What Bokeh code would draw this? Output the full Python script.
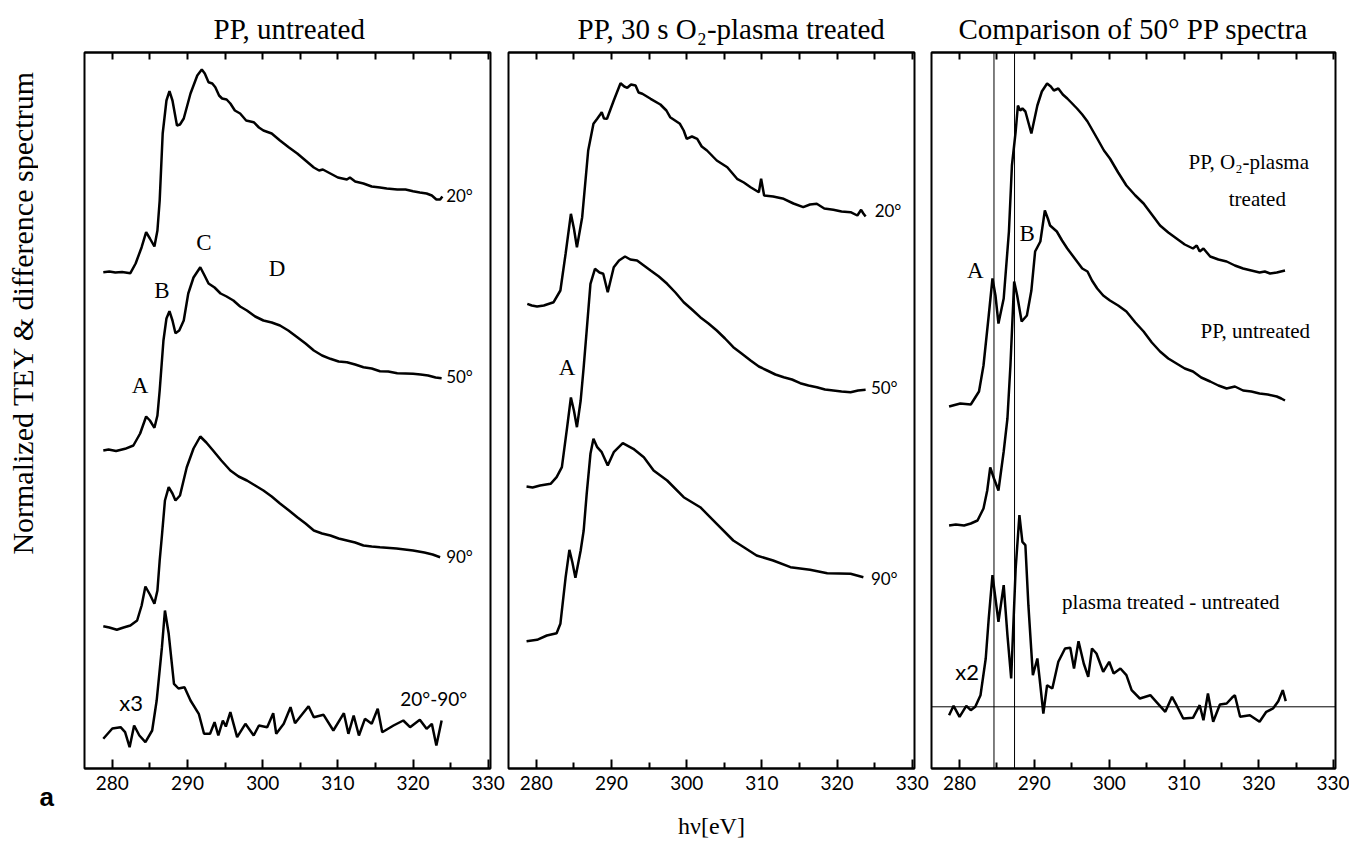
import math
from bokeh.plotting import figure
from bokeh.models import Range1d, FixedTicker, LinearAxis, Label, Span, Title
from bokeh.core.properties import value
from bokeh.layouts import row
from bokeh.embed import file_html
from bokeh.resources import INLINE

# ---------------- data (photon energy in eV, stacked normalized TEY in arb. units) ----------------
TICKS = [280, 290, 300, 310, 320, 330]
MINOR_TICKS = [285, 295, 305, 315, 325]
TOP_TICKS = [280, 285, 290, 295, 300, 305, 310, 315, 320, 325, 330]

# Panel 1: PP, untreated
E_U20 = [278.8, 279.6, 280.4, 281.3, 282.4, 283.1, 283.9, 284.5, 285.0, 285.6, 286.0, 286.3, 286.7, 287.2, 287.6,
         288.0, 288.6, 289.0, 289.5, 290.4, 291.3, 291.9, 292.3, 292.8, 293.3, 293.7, 294.2, 294.6, 295.2, 295.7,
         296.3, 297.0, 297.8, 298.8, 299.5, 300.1, 301.2, 302.3, 303.5, 304.6, 305.7, 306.8, 307.5, 308.0, 309.0,
         310.0, 311.2, 311.6, 312.3, 313.4, 314.5, 315.6, 316.5, 317.9, 319.0, 320.0, 320.9, 321.8, 322.5, 323.1,
         323.6, 323.9]
Y_U20 = [496.3, 497, 496, 496.5, 495.3, 505, 521.3, 536.3, 530, 522, 538, 568, 635, 668, 677.3,
         668, 643, 644, 650, 675, 693, 699, 695, 686.3, 685, 681.3, 673, 670, 669, 665,
         658, 655, 648, 646.3, 641, 638, 635, 628, 621, 615, 608, 601, 598, 599, 595,
         591, 589, 591, 587, 585, 582, 581, 580, 579, 579, 577.3, 576, 575, 573, 569,
         569, 572]

E_U50 = [278.8, 279.5, 280.5, 281.7, 282.8, 283.7, 284.5, 285.0, 285.6, 286.0, 286.3, 286.8, 287.2, 287.6, 288.0,
         288.4, 288.9, 289.5, 290.1, 290.8, 291.7, 292.2, 292.8, 293.6, 294.4, 295.2, 296.1, 297.0, 297.9, 299.0,
         300.1, 301.2, 302.3, 303.4, 304.6, 305.7, 306.8, 307.9, 309.0, 310.1, 311.2, 312.3, 313.4, 314.5, 315.6,
         316.7, 317.9, 319.0, 320.0, 321.0, 322.0, 323.0, 323.8]
Y_U50 = [318, 319, 317.5, 319.7, 323, 335, 352, 348, 340.7, 353, 378, 428, 450, 457.3, 448,
         435.3, 438, 448, 475, 491, 501.3, 494, 485, 481, 475, 472, 468, 462, 458, 452,
         448, 446, 443, 438, 431.3, 425, 418, 413, 409.7, 407, 406.3, 404, 401.3, 400, 397.3,
         397, 395.3, 395, 394.7, 394, 393, 391, 390.3]

E_U90 = [278.8, 279.6, 280.6, 281.5, 282.4, 283.3, 283.9, 284.4, 285.0, 285.6, 286.0, 286.3, 286.6, 287.0, 287.5,
         288.0, 288.4, 289.0, 289.9, 290.8, 291.7, 292.5, 293.4, 294.5, 295.7, 296.8, 297.9, 299.0, 300.1, 301.2,
         302.3, 303.5, 304.6, 305.7, 306.8, 307.9, 309.0, 310.1, 311.2, 312.3, 313.4, 314.5, 315.6, 317.8, 320.0,
         321.5, 322.6, 323.6]
Y_U90 = [142.3, 141, 138.7, 141, 143, 148, 163, 182, 174, 164.7, 178, 208, 233, 268, 281.3,
         275, 268, 273, 301.3, 320, 332, 326, 318, 308, 298, 292, 288, 283, 278, 272,
         265, 258, 251.3, 245, 238, 235, 233, 230, 228, 226, 223, 222, 221.3, 220, 218,
         216, 214, 211.3]

E_UDIFF = [278.8, 280.0, 281.1, 281.7, 282.3, 282.9, 283.6, 284.4, 285.3, 285.9, 286.6, 287.0, 287.5, 288.2, 288.8,
           289.6, 290.4, 291.5, 292.2, 293.0, 293.6, 294.1, 294.7, 295.1, 295.7, 296.6, 297.7, 298.8, 299.5, 300.6,
           301.4, 301.8, 302.8, 303.7, 304.3, 306.1, 306.8, 308.1, 309.4, 310.8, 311.4, 312.1, 312.8, 313.6, 314.5,
           315.3, 315.9, 317.4, 318.7, 319.6, 320.9, 321.8, 322.5, 323.1, 323.8]
Y_UDIFF = [29.7, 40, 41.3, 36.3, 21.3, 43, 33, 26.3, 38, 68, 121.3, 158, 134.7, 84.7, 80,
           81.3, 68, 54.7, 34.7, 34.7, 46.3, 33, 48, 42, 56.3, 31.3, 44.7, 33, 43, 41.3,
           55.3, 34.7, 44.7, 61.3, 45.3, 62.3, 51.3, 53.7, 38, 55.3, 34.7, 53, 33, 49.7, 44.7,
           59.7, 36.3, 43, 48, 41.3, 48.7, 39.7, 44.7, 23, 48]

# Panel 2: PP, 30 s O2-plasma treated
E_T20 = [278.8, 279.4, 280.1, 281.0, 282.3, 283.2, 283.9, 284.6, 285.0, 285.4, 286.1, 286.9, 287.6, 288.1, 288.5,
         288.7, 289.0, 289.4, 290.3, 291.2, 291.7, 292.1, 292.6, 293.2, 293.6, 294.1, 295.2, 296.5, 297.3, 297.8,
         299.1, 299.6, 300.0, 300.7, 301.4, 302.0, 302.7, 304.0, 305.4, 306.7, 307.6, 308.5, 309.6, 309.9, 310.3,
         311.5, 312.9, 314.2, 315.5, 316.4, 317.3, 318.3, 319.5, 320.6, 321.8, 322.7, 323.2, 323.5, 323.8]
Y_T20 = [464.7, 463, 462, 463, 466.3, 478, 515, 554.7, 540, 521.3, 551.3, 618, 644.7, 649.7, 654,
         656.3, 650, 649.7, 668, 685.3, 682, 680.7, 684, 683, 676, 674.7, 669.7, 664, 658, 651.3,
         644.7, 638, 629.7, 632, 629.7, 622, 618, 608, 601.3, 589.7, 586, 581.3, 576.3, 589.7, 573,
         572, 569.7, 565, 561.3, 564, 564.7, 560, 558.7, 557, 556.3, 553, 558.7, 555, 552]

E_T50 = [278.7, 279.5, 280.5, 281.9, 282.7, 283.4, 284.1, 284.6, 285.0, 285.4, 285.9, 286.3, 286.7, 287.2, 287.8,
         288.4, 288.9, 289.5, 290.3, 291.0, 291.8, 292.5, 293.4, 294.3, 295.2, 296.3, 297.4, 298.5, 299.6, 300.7,
         301.8, 302.9, 304.0, 305.1, 306.2, 307.3, 308.5, 309.6, 310.7, 311.8, 312.9, 314.0, 315.1, 316.2, 317.3,
         318.4, 319.5, 320.6, 321.8, 322.8, 323.8]
Y_T50 = [282, 281, 283, 284.7, 291.3, 301.3, 341.3, 371, 358, 341.3, 368, 401.3, 438, 484.7, 499.7,
         496, 494.7, 476.3, 501.3, 508, 512, 509, 508, 503, 498, 492, 484.7, 476, 466.3, 459,
         451.3, 445, 438, 430, 421.3, 415, 408, 402, 398, 394, 391.3, 389, 385.3, 383, 381.3,
         379, 378, 377, 376.3, 378, 378.7]

E_T90 = [278.7, 280.1, 281.4, 282.7, 283.2, 283.9, 284.4, 284.8, 285.2, 285.9, 286.3, 286.7, 287.2, 287.6, 288.1,
         288.7, 289.5, 290.3, 291.5, 292.9, 294.3, 295.6, 297.4, 299.6, 301.8, 304.0, 306.2, 307.6, 309.3, 311.5,
         313.8, 316.4, 318.7, 321.8, 323.5]
Y_T90 = [127.3, 128.7, 133, 135.3, 144.7, 191.3, 218.7, 206, 190.7, 218, 238, 274.7, 314.7, 329.7, 321.3,
         316.3, 303, 316.3, 325.3, 319.7, 311.3, 298, 288, 271.3, 261.3, 244.7, 228, 221.3, 213, 208,
         201.3, 198.7, 195.3, 194.7, 191.3]

# Panel 3: comparison of 50 deg spectra
E_C_TR = [278.6, 280.1, 281.5, 282.6, 283.2, 283.9, 284.4, 284.8, 285.2, 285.9, 286.6, 287.0, 287.5, 287.8, 288.1,
          288.4, 288.8, 289.6, 290.4, 291.0, 291.7, 292.2, 292.6, 293.2, 293.8, 294.4, 295.7, 296.4, 297.1, 298.4,
          299.3, 300.1, 301.2, 302.3, 303.5, 304.6, 305.7, 306.8, 307.9, 309.0, 310.1, 311.2, 311.7, 312.1, 312.6,
          313.5, 314.6, 315.7, 316.8, 317.9, 319.0, 320.1, 320.8, 321.5, 322.4, 323.5]
Y_C_TR = [362, 365, 364, 377, 403, 453, 490, 473, 445, 470, 537, 603, 637, 663, 658,
          660, 657, 635, 663, 677, 685, 682, 678, 680, 674, 670, 660, 654, 647, 630,
          618, 610, 596, 583, 573, 565, 554, 543, 536, 530, 524, 520, 523, 517, 520,
          512, 509, 507, 503, 500, 498, 496, 497, 495, 496, 498]

E_C_UN = [278.6, 279.5, 280.6, 281.5, 282.4, 283.2, 283.7, 284.1, 284.6, 285.2, 285.9, 286.4, 286.8, 287.3, 287.7,
          288.3, 289.0, 289.6, 290.1, 290.8, 291.4, 291.8, 292.1, 293.0, 293.7, 294.4, 295.0, 295.7, 296.4, 297.1,
          297.7, 298.4, 299.2, 300.1, 301.2, 302.3, 303.5, 304.6, 305.7, 306.8, 307.9, 309.0, 310.1, 311.2, 312.3,
          313.5, 314.6, 315.7, 316.8, 317.9, 319.0, 320.1, 321.2, 322.4, 323.0, 323.5]
Y_C_UN = [243, 244, 243, 245, 248, 260, 278, 301, 290, 278, 317, 350, 403, 487, 473,
          447, 453, 478, 517, 527, 558, 550, 543, 537, 528, 520, 514, 507, 500, 497,
          488, 480, 473, 468, 463, 457, 446, 437, 426, 417, 410, 405, 400, 397, 391,
          387, 383, 380, 382, 378, 377, 375, 374, 372, 370, 368]

E_C_DIFF = [278.6, 279.2, 280.0, 280.9, 281.5, 282.1, 282.8, 283.5, 283.9, 284.4, 284.8, 285.2, 285.9, 286.4, 286.9,
            287.5, 288.0, 288.4, 288.8, 289.2, 289.8, 290.4, 290.7, 291.2, 291.7, 292.4, 293.2, 294.1, 294.8, 295.3,
            295.9, 296.6, 297.2, 297.7, 298.3, 299.2, 300.0, 300.6, 301.5, 302.3, 303.0, 304.1, 305.5, 306.3, 307.5,
            308.4, 309.0, 309.9, 311.2, 312.1, 312.6, 313.2, 313.9, 314.8, 315.7, 316.4, 316.8, 317.5, 318.8, 320.1,
            321.0, 321.9, 322.6, 323.2, 323.6]
Y_C_DIFF = [53.3, 62.7, 51.7, 62.7, 58.3, 61.7, 73.3, 110, 150, 193.3, 170, 146.7, 183.3, 133.3, 90,
            200, 253.3, 226.7, 223.3, 163.3, 93.3, 110, 90, 55, 83.3, 80, 106.7, 120, 120.7, 100,
            127.3, 105, 91.7, 120, 115, 96.7, 106.7, 95, 100, 93.3, 78.3, 70, 73.3, 66.7, 56.7,
            71.7, 63.3, 50, 50.7, 63.3, 48.3, 75, 46.7, 64, 65, 70.7, 73.3, 51.7, 53.3, 46.7,
            56.7, 60, 67.3, 78.3, 67.3]
DIFF_ZERO = 61.7
MARK_A_EV = 284.6
MARK_B_EV = 287.35

Y_LABEL = "Normalized TEY & difference spectrum"

SERIF = "Liberation Serif"
SANS = "Lato"
LW = 2.5
TOP_B, BOT_B = 52, 80


def make_fig(left, right, frame_w, xr):
    p = figure(width=left + frame_w + right, height=848,
               x_range=Range1d(*xr), y_range=Range1d(0, 716),
               output_backend="svg", toolbar_location=None, y_axis_location=None,
               min_border_left=left, min_border_right=right,
               min_border_top=TOP_B, min_border_bottom=BOT_B)
    p.title.visible = False
    p.grid.visible = False
    p.outline_line_color = "black"
    p.outline_line_width = 2
    ax = p.xaxis[0]
    ax.ticker = FixedTicker(ticks=TICKS, minor_ticks=MINOR_TICKS)
    ax.major_tick_in = 9
    ax.major_tick_out = 0
    ax.minor_tick_in = 6
    ax.minor_tick_out = 0
    ax.major_tick_line_width = 2
    ax.minor_tick_line_width = 2
    ax.axis_line_width = 2
    ax.major_label_text_font = SANS
    ax.major_label_text_font_size = "19px"
    ax.major_label_text_color = "black"
    ax.major_label_standoff = 7
    top = LinearAxis(ticker=FixedTicker(ticks=[], minor_ticks=TOP_TICKS),
                     minor_tick_in=7, minor_tick_out=0, major_tick_in=0, major_tick_out=0,
                     minor_tick_line_width=2, axis_line_width=2, major_label_standoff=0)
    p.add_layout(top, "above")
    return p, ax


def title(p, text, side="above", size="29px", font=SERIF, align="left", offset=0, standoff=16, style="normal"):
    p.add_layout(Title(text=text, align=align, offset=offset, standoff=standoff,
                       text_font=font, text_font_size=size, text_font_style=style,
                       text_color="black"), side)


def lab(p, x, y, text, font=SERIF, size="23px", align="center", baseline="middle"):
    p.add_layout(Label(x=x, y=y, text=text, text_font=font, text_font_size=size,
                       text_align=align, text_baseline=baseline, text_color="black"))


# ---- narrow strip holding the vertical axis title
p0 = figure(width=38, height=848, x_range=Range1d(0, 38), y_range=Range1d(0, 716),
            output_backend="svg", toolbar_location=None, x_axis_location=None, y_axis_location=None,
            min_border_left=0, min_border_right=0, min_border_top=TOP_B, min_border_bottom=BOT_B)
p0.title.visible = False
p0.grid.visible = False
p0.outline_line_color = None
p0.text(x=[22], y=[456], text=[Y_LABEL], angle=math.pi / 2, text_align="center",
        text_baseline="middle", text_font=value(SERIF), text_font_size=value("30px"), text_color="black")

# ---- panel 1
p1, ax1 = make_fig(46, 16, 406, (276.3, 330.3))
for xs, ys in [(E_U20, Y_U20), (E_U50, Y_U50), (E_U90, Y_U90), (E_UDIFF, Y_UDIFF)]:
    p1.line(xs, ys, line_color="black", line_width=LW)
title(p1, "PP, untreated", offset=129)
title(p1, "a", side="below", font="Liberation Sans", size="26px", style="bold",
      offset=-45, standoff=-26)
lab(p1, 324.4, 573, "20°", font=SANS, size="17px", align="left")
lab(p1, 324.4, 392, "50°", font=SANS, size="17px", align="left")
lab(p1, 324.4, 212, "90°", font=SANS, size="17px", align="left")
lab(p1, 283.7, 383, "A")
lab(p1, 286.6, 478, "B")
lab(p1, 292.2, 526, "C")
lab(p1, 301.9, 500, "D")
lab(p1, 282.5, 66, "x3", font=SANS, size="22px")
lab(p1, 318.3, 70, "20°-90°", font=SANS, size="19px", align="left")

# ---- panel 2
p2, ax2 = make_fig(2, 15, 406, (276.3, 330.3))
for xs, ys in [(E_T20, Y_T20), (E_T50, Y_T50), (E_T90, Y_T90)]:
    p2.line(xs, ys, line_color="black", line_width=LW)
title(p2, "PP, 30 s O₂-plasma treated", offset=69)
ax2.axis_label = "hν[eV]"
ax2.axis_label_text_font = SERIF
ax2.axis_label_text_font_size = "24px"
ax2.axis_label_text_font_style = "normal"
ax2.axis_label_text_color = "black"
ax2.axis_label_standoff = 20
lab(p2, 325.0, 558, "20°", font=SANS, size="17px", align="left")
lab(p2, 324.5, 381, "50°", font=SANS, size="17px", align="left")
lab(p2, 324.5, 190, "90°", font=SANS, size="17px", align="left")
lab(p2, 284.1, 401, "A")

# ---- panel 3
p3, ax3 = make_fig(2, 14, 404, (276.25, 330.25))
p3.add_layout(Span(location=DIFF_ZERO, dimension="width", line_color="black", line_width=1))
p3.add_layout(Span(location=MARK_A_EV, dimension="height", line_color="black", line_width=1))
p3.add_layout(Span(location=MARK_B_EV, dimension="height", line_color="black", line_width=1))
for xs, ys in [(E_C_TR, Y_C_TR), (E_C_UN, Y_C_UN), (E_C_DIFF, Y_C_DIFF)]:
    p3.line(xs, ys, line_color="black", line_width=LW)
title(p3, "Comparison of 50° PP spectra", offset=27)
lab(p3, 310.6, 607, "PP, O₂-plasma", size="21px", align="left")
lab(p3, 319.8, 570, "treated", size="21px")
lab(p3, 312.2, 438, "PP, untreated", size="21px", align="left")
lab(p3, 282.1, 498, "A")
lab(p3, 289.05, 535, "B")
lab(p3, 281.0, 97, "x2", font=SANS, size="22px")
lab(p3, 293.7, 167, "plasma treated - untreated", size="21px", align="left")

layout = row(p0, p1, p2, p3)
open("out.html", "w").write(file_html(layout, INLINE))
